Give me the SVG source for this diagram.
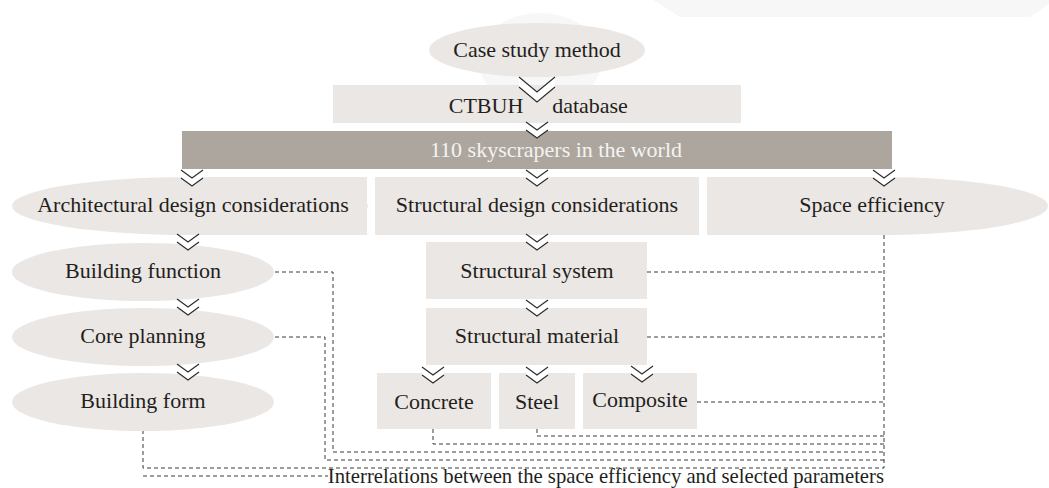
<svg xmlns="http://www.w3.org/2000/svg" width="1049" height="488" viewBox="0 0 1049 488">
<defs>
<style>
.n{fill:#ebe7e4;}
.bar{fill:#aca69f;}
.t{font-family:"Liberation Serif","Times New Roman",serif;font-size:22px;fill:#231f20;text-anchor:middle;}
.tw{font-family:"Liberation Serif","Times New Roman",serif;font-size:22px;fill:#f5f3f1;text-anchor:middle;}
.d{fill:none;stroke:#3a3a3a;stroke-width:1;stroke-dasharray:4 3;}
.cv{fill:none;stroke:#2e2e2e;stroke-width:1.2;}
.cb{fill:#ffffff;}
</style>
<g id="chev">
<polygon class="cb" points="-11,0 0,8 11,0 11,8 0,16 -11,8"/>
<polyline class="cv" points="-11,0 0,8 11,0"/>
<polyline class="cv" points="-11,8 0,16 11,8"/>
</g>
<g id="chevbig">
<polygon class="cb" points="-18,0 0,15 18,0 18,10 0,25 -18,10"/>
<polyline class="cv" points="-18,0 0,15 18,0"/>
<polyline class="cv" points="-18,10 0,25 18,10"/>
</g>
</defs>
<rect width="1049" height="488" fill="#ffffff"/>
<g id="watermark" fill="#f7f7f7">
<polygon points="653,0 680,17 1030,17 1049,4 1049,0"/>
<ellipse cx="540" cy="60" rx="62" ry="47"/>
</g>

<g id="connectors">
<path class="d" d="M275,272 H333 V452 H884"/>
<path class="d" d="M275,337 H325 V460 H884"/>
<path class="d" d="M143,430 V468 H884"/>
<path class="d" d="M433,429 V444 H884"/>
<path class="d" d="M537,429 V436 H884"/>
<path class="d" d="M697,402 H884"/>
<path class="d" d="M647,272 H884"/>
<path class="d" d="M647,337 H884"/>
<path class="d" d="M884,235 V468"/>
<path class="d" d="M143,476 H328"/>
</g>

<g id="case-study">
<ellipse class="n" cx="537" cy="50" rx="108" ry="27"/>
<text class="t" x="537" y="57">Case study method</text>
</g>
<g id="ctbuh">
<rect class="n" x="333" y="85" width="408" height="38"/>
<text class="t" x="486" y="113">CTBUH</text>
<text class="t" x="590" y="113">database</text>
</g>
<g id="skyscrapers">
<rect class="bar" x="182" y="131" width="710" height="38"/>
<text class="tw" x="556" y="157">110 skyscrapers in the world</text>
</g>
<g id="architectural">
<ellipse class="n" cx="190" cy="206" rx="178" ry="29"/>
<rect class="n" x="190" y="177" width="177" height="58"/>
<text class="t" x="193" y="212">Architectural design considerations</text>
</g>
<g id="structural-design">
<rect class="n" x="375" y="177" width="324" height="58"/>
<text class="t" x="537" y="212">Structural design considerations</text>
</g>
<g id="space-efficiency">
<rect class="n" x="707" y="177" width="173" height="58"/>
<ellipse class="n" cx="880" cy="206" rx="168" ry="29"/>
<text class="t" x="872" y="212">Space efficiency</text>
</g>
<g id="building-function">
<ellipse class="n" cx="143" cy="272" rx="131" ry="29"/>
<text class="t" x="143" y="278">Building function</text>
</g>
<g id="core-planning">
<ellipse class="n" cx="143" cy="337" rx="131" ry="29"/>
<text class="t" x="143" y="343">Core planning</text>
</g>
<g id="building-form">
<ellipse class="n" cx="143" cy="402" rx="131" ry="29"/>
<text class="t" x="143" y="408">Building form</text>
</g>
<g id="structural-system">
<rect class="n" x="426" y="242" width="221" height="57"/>
<text class="t" x="537" y="278">Structural system</text>
</g>
<g id="structural-material">
<rect class="n" x="426" y="308" width="221" height="57"/>
<text class="t" x="537" y="343">Structural material</text>
</g>
<g id="concrete">
<rect class="n" x="377" y="373" width="114" height="56"/>
<text class="t" x="434" y="409">Concrete</text>
</g>
<g id="steel">
<rect class="n" x="499" y="373" width="76" height="56"/>
<text class="t" x="537" y="409">Steel</text>
</g>
<g id="composite">
<rect class="n" x="583" y="373" width="114" height="56"/>
<text class="t" x="640" y="407">Composite</text>
</g>
<g id="interrelations">
<text class="t" x="884" y="483" style="text-anchor:end;font-size:20.7px">Interrelations between the space efficiency and selected parameters</text>
</g>

<g id="arrows">
<use href="#chevbig" x="537" y="77"/>
<use href="#chev" x="537" y="122"/>
<use href="#chev" x="192" y="170"/>
<use href="#chev" x="537" y="170"/>
<use href="#chev" x="884" y="170"/>
<use href="#chev" x="188" y="234"/>
<use href="#chev" x="188" y="299"/>
<use href="#chev" x="188" y="364"/>
<use href="#chev" x="537" y="234"/>
<use href="#chev" x="537" y="300"/>
<use href="#chev" x="433" y="367"/>
<use href="#chev" x="537" y="367"/>
<use href="#chev" x="642" y="366"/>
</g>
</svg>
